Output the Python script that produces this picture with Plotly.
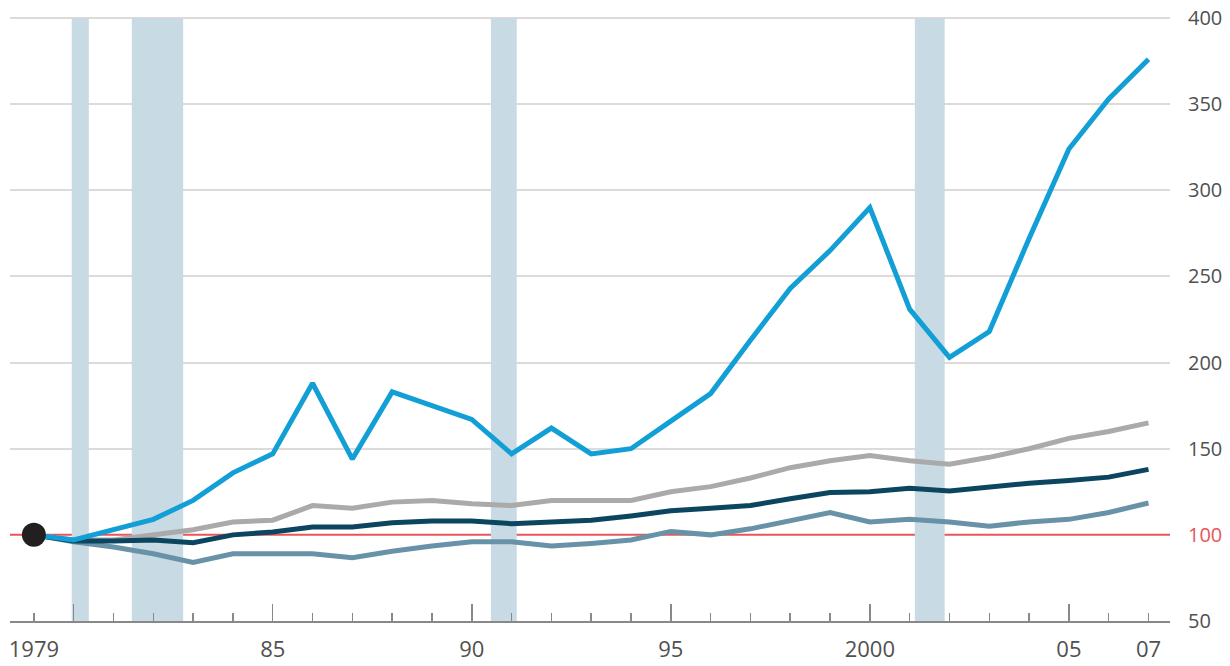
import plotly.graph_objects as go

# ---- data ----
years = list(range(1979, 2008))
series_blue = [100, 97, 103, 109, 120, 136, 147, 188, 144, 183, 175, 167, 147, 162, 147, 150,
               166, 182, 213, 243, 265, 290, 231, 203, 218, 272, 324, 353, 376]
series_gray = [100, 97, 97, 100, 103, 107.5, 108.5, 117, 115.5, 119, 120, 118, 117, 120, 120, 120,
               125, 128, 133, 139, 143, 146, 143, 141, 145, 150, 156, 160, 165]
series_navy = [100, 96.5, 96.5, 97, 95.4, 100, 101.7, 104.6, 104.6, 107, 108, 108, 106.5, 107.5, 108.5, 111,
               114, 115.5, 117, 121, 124.6, 125, 127, 125.5, 128, 130, 131.5, 133.5, 138]
series_steel = [100, 96, 93, 89, 84, 89, 89, 89, 86.7, 90.5, 93.5, 96, 96, 93.5, 95, 97,
                102, 100, 103.5, 108.5, 113, 107.5, 109, 107.5, 105, 107.5, 109, 113, 118.5]
recessions = [(1979.95, 1980.38), (1981.46, 1982.75), (1990.48, 1991.13), (2001.13, 2001.88)]
base_value = 100
label_years = [1979, 1985, 1990, 1995, 2000, 2005, 2007]
label_text = ["1979", "85", "90", "95", "2000", "05", "07"]
major_years = [1980, 1985, 1990, 1995, 2000, 2005]
y_ticks = [50, 100, 150, 200, 250, 300, 350, 400]
grid_ticks = [150, 200, 250, 300, 350, 400]

FONT = "Open Sans"
TXT = "#505050"
RED = "#e8555a"

fig = go.Figure()

for (c, w), vals in [(("#6892a8", 5), series_steel), (("#aaaaaa", 5), series_gray),
                     (("#0c4560", 5), series_navy), (("#129fd6", 5), series_blue)]:
    fig.add_trace(go.Scatter(x=years, y=vals, mode="lines", line=dict(color=c, width=w),
                             showlegend=False, hoverinfo="skip"))

fig.add_trace(go.Scatter(x=[years[0]], y=[base_value], mode="markers", xaxis="x2", yaxis="y2",
                         marker=dict(size=24, color="#231f20"), showlegend=False, hoverinfo="skip"))

shapes = []
for a, b in recessions:
    shapes.append(dict(type="rect", xref="x", yref="y", x0=a, x1=b, y0=y_ticks[0], y1=y_ticks[-1],
                       fillcolor="#c8dbe4", line=dict(width=0), layer="between"))
shapes.append(dict(type="line", xref="paper", yref="y", x0=0, x1=1, y0=base_value, y1=base_value,
                   line=dict(color=RED, width=2), layer="between"))
fig.update_layout(shapes=shapes)

yt_text = [f'<span style="color:{RED}">{v}</span>' if v == base_value else str(v) for v in y_ticks]

xr = [1978.4, 2007.54]
yr = [50, 401.74]
fig.update_layout(
    width=1230, height=666,
    margin=dict(l=10, r=60, t=15, b=45, autoexpand=False),
    plot_bgcolor="white", paper_bgcolor="white",
    font=dict(family=FONT, size=21, color=TXT),
    xaxis=dict(range=xr, showgrid=False, zeroline=False, showline=True, linecolor="#888888",
               linewidth=1.5, tickvals=major_years, ticks="inside", ticklen=17, tickwidth=1.5,
               tickcolor="#888888", showticklabels=False, automargin=False,
               minor=dict(tick0=1979, dtick=1, ticks="inside", ticklen=8, tickwidth=1.5,
                          tickcolor="#888888", showgrid=False)),
    xaxis2=dict(range=xr, overlaying="x", side="bottom", showgrid=False, zeroline=False,
                showline=False, tickvals=label_years, ticktext=label_text, ticks="",
                automargin=False, ticklabelstandoff=13, ticklabeloverflow="allow",
                tickfont=dict(family=FONT, size=22, color=TXT)),
    yaxis=dict(range=yr, side="right", tickvals=y_ticks, ticktext=yt_text, ticks="",
               showgrid=False, zeroline=False, showline=False, automargin=False,
               ticklabeloverflow="allow",
               tickfont=dict(family=FONT, size=20, color=TXT), ticklabelstandoff=17),
    yaxis2=dict(range=yr, overlaying="y", side="right", tickvals=grid_ticks, showticklabels=False,
                ticks="", showgrid=True, gridcolor="#dddada", gridwidth=2, zeroline=False,
                showline=False, automargin=False),
)

fig.write_html("out.html", post_script="document.body.style.margin='0';",
               config={"displayModeBar": False, "staticPlot": True})
